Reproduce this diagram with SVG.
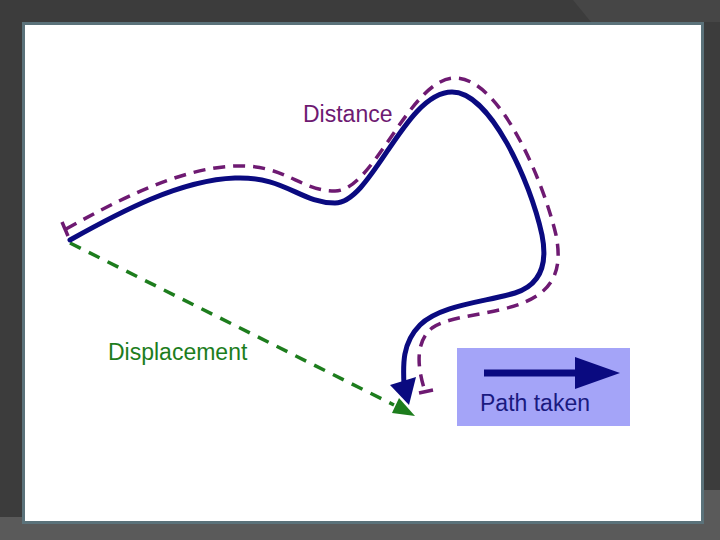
<svg xmlns="http://www.w3.org/2000/svg" width="720" height="540" viewBox="0 0 720 540">
<style>
.lbl{font-family:"Liberation Sans",Arial,sans-serif;font-size:23px}
.purple{fill:none;stroke:#6e1a72;stroke-width:3.5;stroke-dasharray:12 8}
.green{fill:none;stroke:#1d7d1d;stroke-width:3.5;stroke-dasharray:12 9}
.navy{fill:none;stroke:#0a0a80;stroke-width:5;stroke-linecap:round}
</style>
<rect x="0" y="0" width="720" height="540" fill="#3c3c3c"/>
<polygon points="573,0 720,0 720,22 591,22" fill="#464646"/>
<polygon points="0,517 720,517 720,540 0,540" fill="#5a5a5a"/>
<polygon points="704,490 720,490 720,517 704,517" fill="#5a5a5a"/>
<rect x="23.5" y="23.5" width="679" height="499" fill="#ffffff" stroke="#5b727a" stroke-width="3"/>
<g id="connectors">
<path class="green" d="M70,243 L394,405"/>
<polygon points="399,398 392,413 415,416" fill="#1d7d1d"/>
<path class="purple" d="M66,229 C118,200 180,168 235,166 C285,164 300,191 335,191 C374,191 410,78 455,78 C500,78 543,180 556,235 C563,270 553,290 525,302 C495,315 450,315 432,328 C414,343 418,370 425,391"/>
<line x1="62" y1="222" x2="68" y2="236" stroke="#6e1a72" stroke-width="3.5"/>
<line x1="419" y1="393" x2="433" y2="390" stroke="#6e1a72" stroke-width="3.5"/>
<path class="navy" d="M70,240 C120,212 180,180 235,178 C285,176 300,203 335,203 C372,203 405,92 452,92 C490,92 530,180 542,235 C548,265 540,285 515,293 C485,302 440,305 420,325 C402,343 403,365 404,385"/>
<polygon points="390,385 416,377 409,405" fill="#0a0a80"/>
</g>
<g id="distance-label"><text class="lbl" x="303" y="122" fill="#6e1a72">Distance</text></g>
<g id="displacement-label"><text class="lbl" x="108" y="360" fill="#1d7d1d">Displacement</text></g>
<g id="legend">
<rect x="457" y="348" width="173" height="78" fill="#a4a4f8"/>
<line x1="484" y1="373" x2="580" y2="373" stroke="#0a0a80" stroke-width="7"/>
<polygon points="575,357 620,373 575,389" fill="#0a0a80"/>
<text class="lbl" x="480" y="411" fill="#1a1a80">Path taken</text>
</g>
</svg>
